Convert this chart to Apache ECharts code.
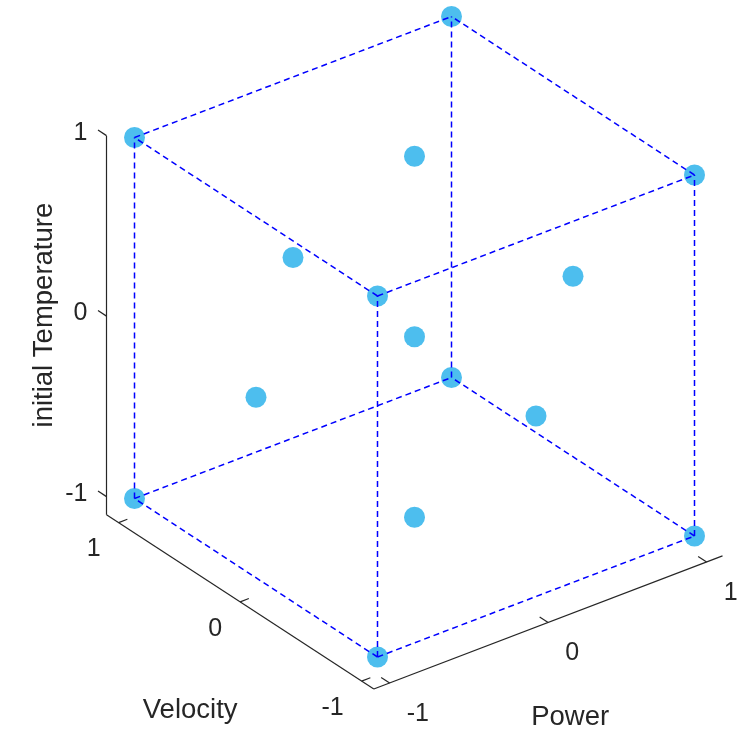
<!DOCTYPE html>
<html><head><meta charset="utf-8">
<script src="https://cdn.jsdelivr.net/npm/echarts@6/dist/echarts.min.js"></script>
<style>html,body{margin:0;padding:0;background:#fff}#c{width:749px;height:731px}</style>
</head><body><div id="c"></div>
<script>
// ---- data (design points: cube corners, face centres, centre point) ----
const power       = [-1, 1,-1, 1,-1, 1,-1, 1, -1, 1,  0, 0,  0, 0, 0];
const velocity    = [-1,-1, 1, 1,-1,-1, 1, 1,  0, 0, -1, 1,  0, 0, 0];
const temperature = [-1,-1,-1,-1, 1, 1, 1, 1,  0, 0,  0, 0, -1, 1, 0];
const tickValues  = [-1, 0, 1];
const tickLabels  = ['-1', '0', '1'];
const axisNames   = ['Power', 'Velocity', 'initial Temperature'];
const powerLim       = [-1.1, 1.1];
const velocityLim    = [-1.1, 1.1];
const temperatureLim = [-1.1, 1];

// ---- view (orthographic projection, screen units per data unit) ----
const EX = [158.5, 60.5];
const EY = [-121.5, 79.25];
const EZ = [0, 180.5];
function proj(p, v, t) {
  return [EX[0]*p + EY[0]*v + EZ[0]*t, EX[1]*p + EY[1]*v + EZ[1]*t];
}

const FONT = '"Liberation Sans", Arial, Helvetica, sans-serif';
const TXT = '#262626';

// points
const pts = power.map((p, i) => proj(p, velocity[i], temperature[i]));

// cube edges from the corner points
const corners = [];
power.forEach((p, i) => {
  if (Math.abs(p) === 1 && Math.abs(velocity[i]) === 1 && Math.abs(temperature[i]) === 1)
    corners.push([p, velocity[i], temperature[i]]);
});
const edges = [];
for (let i = 0; i < corners.length; i++) for (let j = i + 1; j < corners.length; j++) {
  let diff = 0;
  for (let k = 0; k < 3; k++) if (corners[i][k] !== corners[j][k]) diff++;
  if (diff === 1) {
    const a = proj(...corners[i]), b = proj(...corners[j]);
    edges.push([a[0], a[1], b[0], b[1]]);
  }
}

// axis lines
const axisLines = [
  [...proj(powerLim[0], velocityLim[0], temperatureLim[0]), ...proj(powerLim[1], velocityLim[0], temperatureLim[0])],
  [...proj(powerLim[0], velocityLim[0], temperatureLim[0]), ...proj(powerLim[0], velocityLim[1], temperatureLim[0])],
  [...proj(powerLim[0], velocityLim[1], temperatureLim[0]), ...proj(powerLim[0], velocityLim[1], temperatureLim[1])]
];
// ticks
const tickSegs = [];
const labelItems = []; // [u, w, text, kind]
tickValues.forEach((tv, i) => {
  let a = proj(tv, velocityLim[0], temperatureLim[0]);
  let b = proj(tv, velocityLim[0] + 0.07, temperatureLim[0]);
  tickSegs.push([a[0], a[1], b[0], b[1]]);
  labelItems.push([a[0], a[1], tickLabels[i], 0]);
  a = proj(powerLim[0], tv, temperatureLim[0]);
  b = proj(powerLim[0] + 0.055, tv, temperatureLim[0]);
  tickSegs.push([a[0], a[1], b[0], b[1]]);
  labelItems.push([a[0], a[1], tickLabels[i], 1]);
  a = proj(powerLim[0], velocityLim[1], tv);
  b = proj(powerLim[0], velocityLim[1] + 0.07, tv);
  tickSegs.push([a[0], a[1], b[0], b[1]]);
  labelItems.push([a[0], a[1], tickLabels[i], 2]);
});
const nameItems = [
  [...proj(0, velocityLim[0], temperatureLim[0]), axisNames[0], 0],
  [...proj(powerLim[0], 0, temperatureLim[0]), axisNames[1], 1],
  [...proj(powerLim[0], velocityLim[1], 0), axisNames[2], 2]
];

function segRenderer(style) {
  return function (params, api) {
    const a = api.coord([api.value(0), api.value(1)]);
    const b = api.coord([api.value(2), api.value(3)]);
    return { type: 'line', shape: { x1: a[0], y1: a[1], x2: b[0], y2: b[1] }, style: style };
  };
}
const tickLabelOff = [
  { dx: 17, dy: 31, align: 'left' },
  { dx: -18, dy: 27, align: 'right' },
  { dx: -19, dy: -3, align: 'right' }
];
const nameOff = [
  { dx: 22, dy: 95, rot: 0 },
  { dx: -50, dy: 109, rot: 0 },
  { dx: -62, dy: -1, rot: Math.PI / 2 }
];

const chart = echarts.init(document.getElementById('c'), null, { renderer: 'canvas' });
chart.setOption({
  animation: false,
  backgroundColor: '#fff',
  grid: { left: 0, top: 0, width: 749, height: 731 },
  xAxis: { type: 'value', min: -414.5, max: 334.5, show: false },
  yAxis: { type: 'value', min: -394.25, max: 336.75, show: false },
  series: [
    {
      type: 'custom', z: 1, clip: false, silent: true,
      data: axisLines,
      renderItem: segRenderer({ stroke: TXT, lineWidth: 1.2, fill: null })
    },
    {
      type: 'custom', z: 1, clip: false, silent: true,
      data: tickSegs,
      renderItem: segRenderer({ stroke: TXT, lineWidth: 1.2, fill: null })
    },
    {
      type: 'scatter', z: 2, silent: true,
      data: pts,
      symbol: 'circle', symbolSize: 21,
      itemStyle: { color: '#4DBEEE', opacity: 1 }
    },
    {
      type: 'custom', z: 3, clip: false, silent: true,
      data: edges,
      renderItem: segRenderer({ stroke: '#0000FF', lineWidth: 1.5, lineDash: [6, 4], fill: null })
    },
    {
      type: 'custom', z: 4, clip: false, silent: true,
      data: labelItems,
      renderItem: function (params, api) {
        const item = labelItems[params.dataIndex];
        const c = api.coord([item[0], item[1]]);
        const o = tickLabelOff[item[3]];
        return { type: 'text', x: c[0] + o.dx, y: c[1] + o.dy,
          style: { text: item[2], fontSize: 25, fontFamily: FONT, fill: TXT, align: o.align, verticalAlign: 'middle' } };
      }
    },
    {
      type: 'custom', z: 4, clip: false, silent: true,
      data: nameItems,
      renderItem: function (params, api) {
        const item = nameItems[params.dataIndex];
        const c = api.coord([item[0], item[1]]);
        const o = nameOff[item[3]];
        return { type: 'text', x: c[0] + o.dx, y: c[1] + o.dy, rotation: o.rot,
          style: { text: item[2], fontSize: 27.5, fontFamily: FONT, fill: TXT, align: 'center', verticalAlign: 'middle' } };
      }
    }
  ]
});
</script>
</body></html>
